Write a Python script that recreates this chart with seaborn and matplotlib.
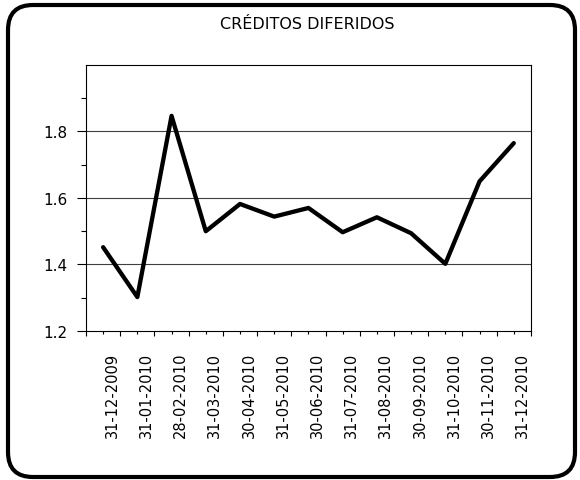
import matplotlib
matplotlib.use("Agg")
import matplotlib.pyplot as plt
from matplotlib.patches import FancyBboxPatch
from matplotlib.transforms import IdentityTransform, ScaledTranslation
import seaborn as sns
import numpy as np
import pandas as pd

fechas = ["31-12-2009", "31-01-2010", "28-02-2010", "31-03-2010", "30-04-2010",
          "31-05-2010", "30-06-2010", "31-07-2010", "31-08-2010", "30-09-2010",
          "31-10-2010", "30-11-2010", "31-12-2010"]
valores = [1.452, 1.302, 1.847, 1.500, 1.582, 1.544, 1.570,
           1.497, 1.542, 1.494, 1.402, 1.650, 1.765]
y_ticks = [1.2, 1.4, 1.6, 1.8]
y_minor = [1.3, 1.5, 1.7, 1.9]
titulo = "CRÉDITOS DIFERIDOS"

sns.set_style("white")
plt.rcParams["font.family"] = ["DejaVu Sans"]
plt.rcParams.update({"text.color": "black", "xtick.color": "black",
                     "ytick.color": "black", "axes.labelcolor": "black"})

df = pd.DataFrame({"fecha": fechas, "valor": valores})

fig = plt.figure(figsize=(5.8, 4.81), dpi=100)
ax = fig.add_axes([0.1483, 0.3098, 0.767, 0.553])

sns.lineplot(data=df, x="fecha", y="valor", ax=ax, color="black", lw=3.1, sort=False)

ax.set_xlim(-0.5, len(fechas) - 0.5)
ax.set_ylim(1.2, 2.0)

# category boundaries as major ticks, labels on the category centres
ax.set_xticks(np.arange(-0.5, len(fechas), 1.0))
ax.set_xticklabels([])
ax.set_xticks(np.arange(len(fechas)), minor=True)
ax.set_xticklabels(fechas, minor=True, rotation=90, fontsize=10.5)
ax.tick_params(axis="x", which="major", length=3.6, width=0.8, direction="out", bottom=True)
ax.tick_params(axis="x", which="minor", length=1.8, width=0.8, direction="out", bottom=True, pad=13)
shift = ScaledTranslation(9 / 100, 0, fig.dpi_scale_trans)
for lbl in ax.get_xticklabels(minor=True):
    lbl.set_transform(lbl.get_transform() + shift)

ax.set_yticks(y_ticks)
ax.set_yticklabels([f"{v:.1f}" for v in y_ticks], fontsize=11)
ax.set_yticks(y_minor, minor=True)
ax.tick_params(axis="y", which="major", length=6.5, width=0.8, direction="out", left=True, pad=7)
ax.tick_params(axis="y", which="minor", length=3.6, width=0.8, direction="out", left=True)

ax.grid(False)
for v in y_ticks[1:]:
    ax.axhline(v, color="#404040", lw=0.8, zorder=0)

for side in ["left", "bottom", "top", "right"]:
    ax.spines[side].set_visible(True)
    ax.spines[side].set_color("black")
    ax.spines[side].set_linewidth(0.8)

ax.set_xlabel("")
ax.set_ylabel("")

fig.text(0.529, 0.95, titulo, ha="center", va="center", fontsize=11.5)

# rounded outer border
borde = FancyBboxPatch((8, 3), 567, 472, boxstyle="round,pad=0,rounding_size=25",
                       transform=IdentityTransform(), fill=False, ec="black", lw=3)
fig.patches.append(borde)

fig.savefig("out.png", dpi=100)
